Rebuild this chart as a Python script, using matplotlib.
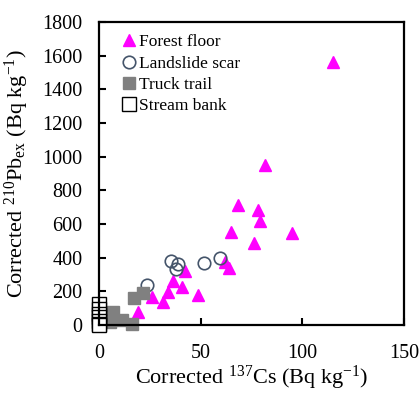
import matplotlib.pyplot as plt

plt.rcParams['font.family'] = ['Liberation Serif', 'DejaVu Serif']
plt.rcParams['mathtext.fontset'] = 'custom'
plt.rcParams['mathtext.rm'] = 'Liberation Serif'
plt.rcParams['mathtext.it'] = 'Liberation Serif:italic'

# Forest floor
forest_x = [115, 81.7, 68.2, 78.4, 79.2, 64.9, 94.8, 76.2, 64.1, 62, 48.8,
            42.3, 36.2, 40.7, 34.1, 31.6, 25.9, 19.3]
forest_y = [1560, 950, 713, 683, 620, 554, 545, 485, 337, 372, 180,
            323, 263, 228, 198, 139, 164, 79]
# Landslide scar
slide_x = [23.5, 35.4, 39.0, 37.9, 51.8, 59.5]
slide_y = [240, 382, 362, 331, 370, 396]
# Truck trail
truck_x = [17.4, 21.8, 7.0, 5.4, 11.2, 16.1, 4.4]
truck_y = [159, 192, 79, 20, 30, 6, 53]
# Stream bank
bank_x = [0, 0, 0, 0, 0, 0, 0]
bank_y = [125, 95, 65, 45, 25, 5, 0]

fig = plt.figure(figsize=(4.2, 3.94), dpi=100)
ax = fig.add_axes([0.236, 0.175, 0.726, 0.769])

ax.plot(forest_x, forest_y, '^', color='#FF00FF', ms=8, ls='none', clip_on=False, label='Forest floor')
ax.plot(slide_x, slide_y, 'o', mfc='none', mec='#44546A', mew=1.2, ms=9, ls='none', clip_on=False, label='Landslide scar')
ax.plot(truck_x, truck_y, 's', color='#808080', ms=8, ls='none', clip_on=False, label='Truck trail')
ax.plot(bank_x, bank_y, 's', mfc='white', mec='black', mew=1, ms=10, ls='none', clip_on=False, label='Stream bank')

ax.set_xlim(0, 150)
ax.set_ylim(0, 1800)
ax.set_xticks([0, 50, 100, 150])
ax.set_yticks(range(0, 1801, 200))
ax.tick_params(direction='in', length=5, width=1.5, labelsize=14.5)
ax.tick_params(axis='x', pad=14)
ax.tick_params(axis='y', pad=12)
for s in ax.spines.values():
    s.set_linewidth(1.6)

ax.set_xlabel(r'Corrected $^{137}$Cs (Bq kg$^{\mathrm{-1}}$)', fontsize=16, labelpad=0)
ax.set_ylabel(r'Corrected $^{210}$Pb$_{\mathrm{ex}}$ (Bq kg$^{\mathrm{-1}}$)', fontsize=16, labelpad=8)

ax.legend(loc='upper left', bbox_to_anchor=(0.03, 1.0), frameon=False, fontsize=12.5,
          handletextpad=0.05, handlelength=1.0, labelspacing=0.3, borderaxespad=0.3)

fig.savefig('out.png', dpi=100)
